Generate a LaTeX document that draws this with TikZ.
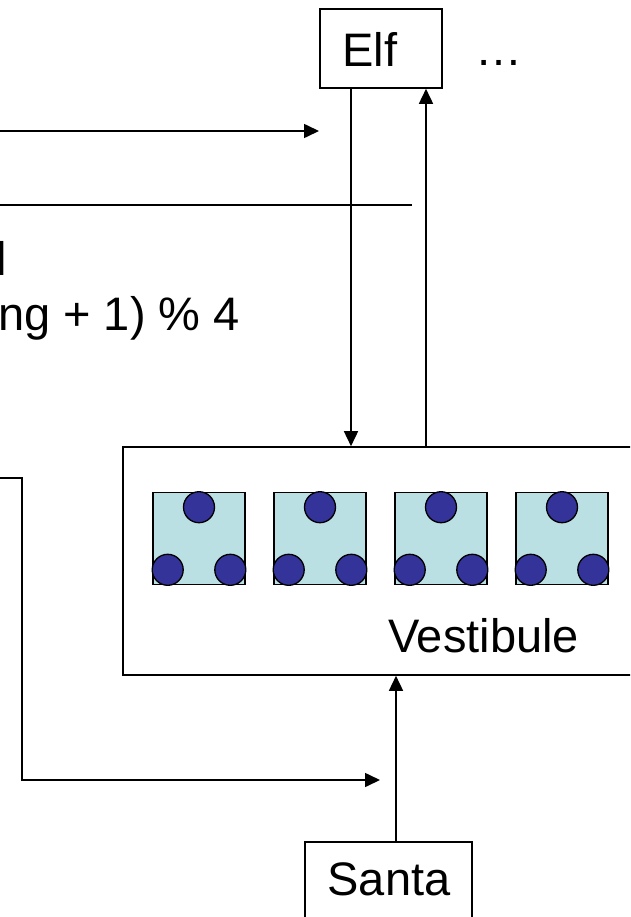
\documentclass[tikz,border=0pt]{standalone}
\usepackage{fontspec}
\setmainfont{Liberation Sans}
\usetikzlibrary{arrows.meta,calc}
\definecolor{sqfill}{HTML}{BBE0E3}
\definecolor{dotfill}{HTML}{333399}
\tikzset{
  ln/.style={line width=1.6pt, draw=black},
  arr/.style={ln, -{Triangle[length=15pt,width=14pt]}},
  box/.style={draw=black, line width=1.6pt, fill=white, inner sep=0pt},
  lbl/.style={inner sep=0pt, font=\fontsize{47}{54}\selectfont},
  sq/.style={draw=black, line width=1.6pt, fill=sqfill, minimum width=92pt, minimum height=92pt, inner sep=0pt},
  dot/.style={draw=black, line width=1.3pt, fill=dotfill}
}
\begin{document}
\begin{tikzpicture}[x=1pt,y=-1pt]
\useasboundingbox (0,0) rectangle (630,917);
\clip (0,0) rectangle (630,917);
% boxes
\node[box, minimum width=122pt, minimum height=79pt] (elf) at (381,48.5) {};
\node[box, minimum width=537pt, minimum height=228pt] (vest) at (391.5,561) {};
\node[box, minimum width=167pt, minimum height=108pt] (santa) at (388.5,896) {};
% labels
\node[lbl, anchor=base] (elftext) at (370,67) {Elf};
\node[lbl, anchor=base] (dots) at (499,66) {…};
\node[lbl, anchor=base] (vesttext) at (483.5,652) {Vestibule};
\node[lbl, anchor=base] (santatext) at (389,895) {Santa};
\node[lbl, anchor=base east] (t1) at (7,275) {l};
\node[lbl, anchor=base east] (t2) at (240,330) {ng + 1) \% 4};
% slots
\foreach \i/\x in {1/199,2/320,3/441,4/562} {
  \node[sq] (s\i) at (\x,538.5) {};
  \draw[dot] ([yshift=-15.5pt]s\i.north) circle (15.5pt);
  \draw[dot] ([xshift=15.5pt,yshift=15.5pt]s\i.south west) circle (15.5pt);
  \draw[dot] ([xshift=-15.5pt,yshift=15.5pt]s\i.south east) circle (15.5pt);
}
% connectors
\coordinate (a0) at (0,131);
\coordinate (a1) at (319,131);
\draw[arr] (a0) -- (a1);
\coordinate (b0) at (0,205);
\coordinate (b1) at (412,205);
\draw[ln] (b0) -- (b1);
\coordinate (xd) at (351,0);
\coordinate (xu) at (426,0);
\draw[arr] (elf.south -| xd) -- (vest.north -| xd);
\draw[arr] (vest.north -| xu) -- (elf.south -| xu);
\coordinate (c0) at (0,478);
\coordinate (c1) at (22,478);
\coordinate (c2) at (22,780);
\coordinate (c3) at (380,780);
\draw[arr] (c0) -- (c1) -- (c2) -- (c3);
\coordinate (xs) at (396,0);
\draw[arr] (santa.north -| xs) -- (vest.south -| xs);
\end{tikzpicture}
\end{document}
